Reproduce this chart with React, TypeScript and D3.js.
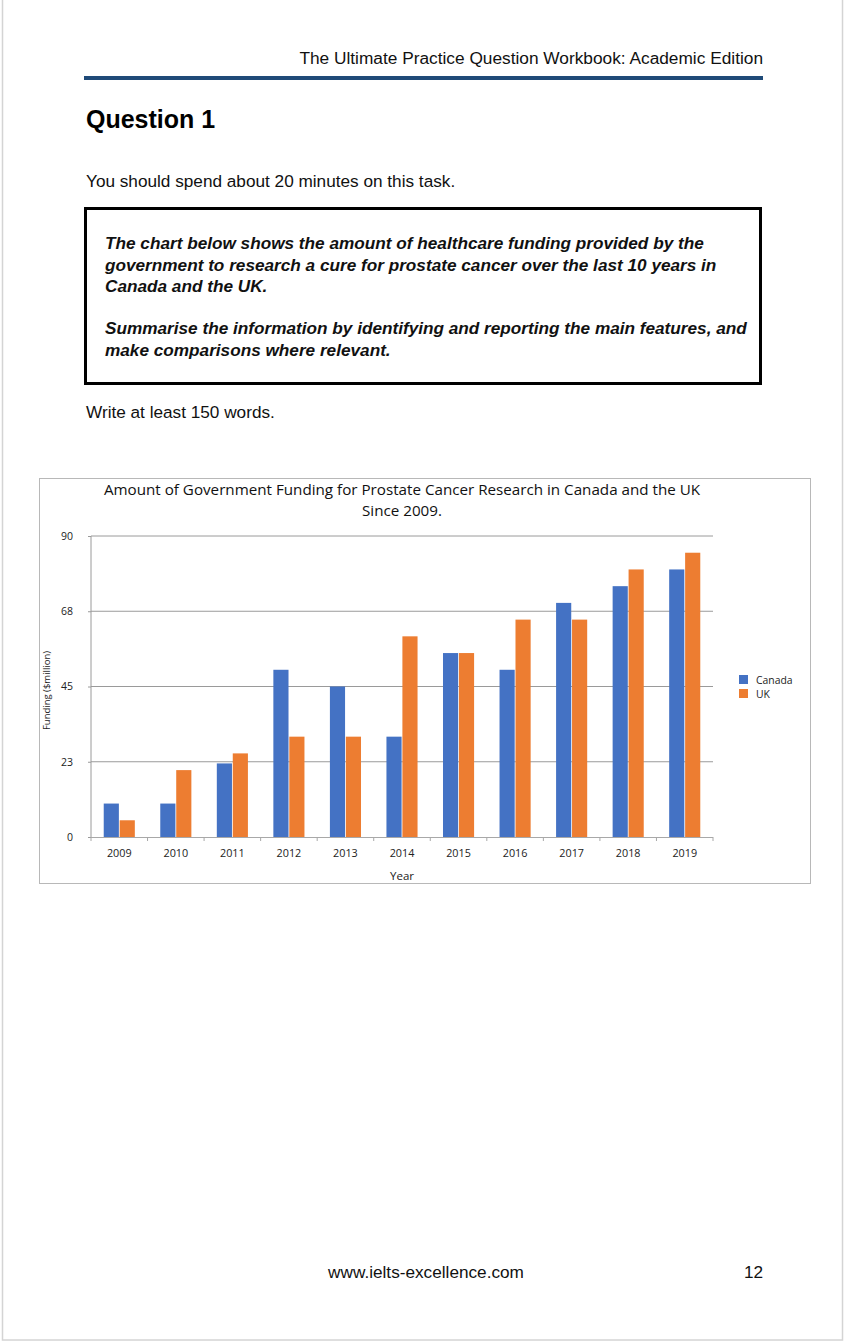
import * as React from 'react';
import * as d3 from 'd3';

const years = ['2009', '2010', '2011', '2012', '2013', '2014', '2015', '2016', '2017', '2018', '2019'];
const seriesNames = ['Canada', 'UK'];
const canada = [10, 10, 22, 50, 45, 30, 55, 50, 70, 75, 80];
const uk = [5, 20, 25, 30, 30, 60, 55, 65, 65, 80, 85];
const yTicks = [0, 22.5, 45, 67.5, 90];
const yTickLabels = ['0', '23', '45', '68', '90'];
const colors = ['#4472C4', '#ED7D31'];

const taskLines = [
  'The chart below shows the amount of healthcare funding provided by the',
  'government to research a cure for prostate cancer over the last 10 years in',
  'Canada and the UK.',
  '',
  'Summarise the information by identifying and reporting the main features, and',
  'make comparisons where relevant.',
];

export default function App() {
  const svgRef = React.useRef<SVGSVGElement>(null);

  React.useEffect(() => {
    if (!svgRef.current) return;
    const svg = d3.select(svgRef.current);
    svg.selectAll('*').remove();
    const pageFont = '"Liberation Sans", Arial, sans-serif';
    const chartFont = '"Open Sans", "Noto Sans", sans-serif';
    const bodySize = '17.2px';

    // page frame
    svg.append('rect').attr('width', 846).attr('height', 1344).attr('fill', '#fff');
    svg
      .append('rect')
      .attr('x', 2.5)
      .attr('y', -2)
      .attr('width', 840)
      .attr('height', 1342)
      .attr('fill', 'none')
      .attr('stroke', '#d4d4d4')
      .attr('stroke-width', 1.5);

    // header
    svg
      .append('text')
      .attr('x', 763)
      .attr('y', 64)
      .attr('text-anchor', 'end')
      .style('font-family', pageFont)
      .style('font-size', '17.3px')
      .attr('fill', '#111')
      .text('The Ultimate Practice Question Workbook: Academic Edition');
    svg.append('rect').attr('x', 84).attr('y', 76).attr('width', 679).attr('height', 4).attr('fill', '#1f4a78');

    svg
      .append('text')
      .attr('x', 86)
      .attr('y', 128)
      .style('font-family', pageFont)
      .style('font-size', '25px')
      .style('font-weight', 'bold')
      .attr('fill', '#000')
      .text('Question 1');

    svg
      .append('text')
      .attr('x', 86)
      .attr('y', 187)
      .style('font-family', pageFont)
      .style('font-size', bodySize)
      .attr('fill', '#111')
      .text('You should spend about 20 minutes on this task.');

    svg
      .append('rect')
      .attr('x', 85.5)
      .attr('y', 208.5)
      .attr('width', 675)
      .attr('height', 175)
      .attr('fill', 'none')
      .attr('stroke', '#000')
      .attr('stroke-width', 3);

    const lineY = [249, 271, 292, 313, 334, 356];
    svg
      .append('g')
      .selectAll('text')
      .data(taskLines)
      .enter()
      .append('text')
      .attr('x', 105)
      .attr('y', (d, i) => lineY[i])
      .style('font-family', pageFont)
      .style('font-size', bodySize)
      .style('font-weight', 'bold')
      .style('font-style', 'italic')
      .attr('fill', '#111')
      .text((d) => d);

    svg
      .append('text')
      .attr('x', 86)
      .attr('y', 418)
      .style('font-family', pageFont)
      .style('font-size', bodySize)
      .attr('fill', '#111')
      .text('Write at least 150 words.');

    // footer
    svg
      .append('text')
      .attr('x', 426)
      .attr('y', 1278)
      .attr('text-anchor', 'middle')
      .style('font-family', pageFont)
      .style('font-size', bodySize)
      .attr('fill', '#111')
      .text('www.ielts-excellence.com');
    svg
      .append('text')
      .attr('x', 763)
      .attr('y', 1278)
      .attr('text-anchor', 'end')
      .style('font-family', pageFont)
      .style('font-size', bodySize)
      .attr('fill', '#111')
      .text('12');

    // chart box
    svg
      .append('rect')
      .attr('x', 39.5)
      .attr('y', 478.5)
      .attr('width', 771)
      .attr('height', 405)
      .attr('fill', '#fff')
      .attr('stroke', '#b8b8b8')
      .attr('stroke-width', 1);

    const left = 91;
    const right = 713;
    const top = 536;
    const bottom = 837;

    const x0 = d3.scaleBand().domain(years).range([left, right]).paddingInner(0.45).paddingOuter(0.225);
    const x1 = d3.scaleBand().domain(seriesNames).range([0, x0.bandwidth()]).paddingInner(0.05);
    const y = d3.scaleLinear().domain([0, 90]).range([bottom, top]);

    const title = svg
      .append('text')
      .attr('text-anchor', 'middle')
      .style('font-family', chartFont)
      .style('font-size', '15.2px')
      .attr('fill', '#111');
    title.append('tspan').attr('x', 402).attr('y', 495).text('Amount of Government Funding for Prostate Cancer Research in Canada and the UK');
    title.append('tspan').attr('x', 402).attr('y', 516).text('Since 2009.');

    // gridlines
    svg
      .append('g')
      .selectAll('line')
      .data(yTicks.slice(1))
      .enter()
      .append('line')
      .attr('x1', left)
      .attr('x2', right)
      .attr('y1', (d) => y(d))
      .attr('y2', (d) => y(d))
      .attr('stroke', '#9a9a9a')
      .attr('stroke-width', 1);

    // y axis
    const yAxis = d3
      .axisLeft(y)
      .tickValues(yTicks)
      .tickSize(3)
      .tickPadding(15)
      .tickFormat((d, i) => yTickLabels[i]);
    const yAxisGroup = svg.append('g').attr('transform', `translate(${left},0)`).call(yAxis);
    yAxisGroup.select('.domain').attr('stroke', '#9a9a9a').attr('d', `M0,${bottom}V${top}`);
    yAxisGroup.selectAll('.tick line').attr('stroke', '#9a9a9a');
    yAxisGroup
      .selectAll('.tick text')
      .style('font-family', chartFont)
      .style('font-size', '10.5px')
      .attr('fill', '#222');

    // bars
    const groups = svg
      .append('g')
      .selectAll('g')
      .data(years)
      .enter()
      .append('g')
      .attr('transform', (d) => `translate(${x0(d)},0)`);
    groups
      .selectAll('rect')
      .data((d, i) => [canada[i], uk[i]].map((v, j) => ({ key: seriesNames[j], value: v, color: colors[j] })))
      .enter()
      .append('rect')
      .attr('x', (d) => x1(d.key) as number)
      .attr('y', (d) => y(d.value))
      .attr('width', x1.bandwidth())
      .attr('height', (d) => bottom - y(d.value))
      .attr('fill', (d) => d.color);

    // x axis
    const step = x0.step();
    const boundaries = d3.range(years.length + 1).map((i) => left + i * step);
    const xAxisGroup = svg.append('g');
    xAxisGroup
      .append('line')
      .attr('x1', left)
      .attr('x2', right)
      .attr('y1', bottom + 0.5)
      .attr('y2', bottom + 0.5)
      .attr('stroke', '#a8a8a8');
    xAxisGroup
      .selectAll('line.tk')
      .data(boundaries)
      .enter()
      .append('line')
      .attr('class', 'tk')
      .attr('x1', (d) => d)
      .attr('x2', (d) => d)
      .attr('y1', bottom)
      .attr('y2', bottom + 4)
      .attr('stroke', '#a8a8a8');
    xAxisGroup
      .selectAll('text')
      .data(years)
      .enter()
      .append('text')
      .attr('x', (d) => (x0(d) as number) + x0.bandwidth() / 2)
      .attr('y', 857)
      .attr('text-anchor', 'middle')
      .style('font-family', chartFont)
      .style('font-size', '10.8px')
      .attr('fill', '#222')
      .text((d) => d);

    svg
      .append('text')
      .attr('x', 402)
      .attr('y', 880)
      .attr('text-anchor', 'middle')
      .style('font-family', chartFont)
      .style('font-size', '11.5px')
      .attr('fill', '#222')
      .text('Year');

    svg
      .append('text')
      .attr('transform', `translate(50,${(top + bottom) / 2 + 4}) rotate(-90)`)
      .attr('text-anchor', 'middle')
      .style('font-family', chartFont)
      .style('font-size', '9.5px')
      .attr('fill', '#222')
      .text('Funding ($million)');

    // legend
    const legend = svg
      .append('g')
      .selectAll('g')
      .data(seriesNames)
      .enter()
      .append('g')
      .attr('transform', (d, i) => `translate(739,${675 + i * 14})`);
    legend
      .append('rect')
      .attr('width', 9)
      .attr('height', 9)
      .attr('fill', (d, i) => colors[i]);
    legend
      .append('text')
      .attr('x', 17)
      .attr('y', 8.5)
      .style('font-family', chartFont)
      .style('font-size', '10.4px')
      .attr('fill', '#222')
      .text((d) => d);

    return function cleanup() {
      if (svgRef.current) d3.select(svgRef.current).selectAll('*').remove();
    };
  }, []);

  return (
    <svg
      ref={svgRef}
      width={846}
      height={1344}
      style={{ position: 'absolute', left: 0, top: 0, display: 'block' }}
    />
  );
}
